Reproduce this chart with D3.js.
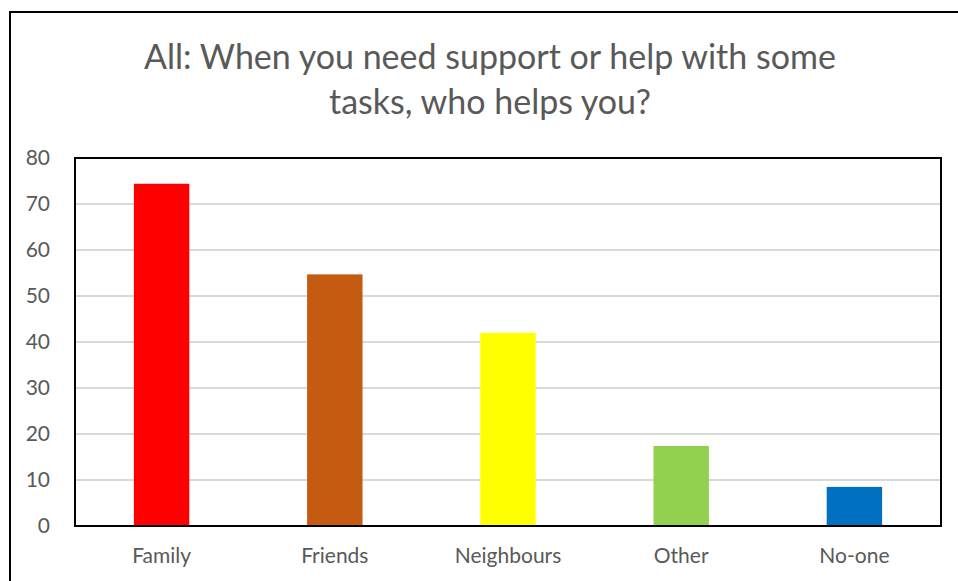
<!DOCTYPE html>
<html>
<head>
<meta charset="utf-8">
<script src="https://cdn.jsdelivr.net/npm/d3@7"></script>
<style>
  html, body { margin: 0; padding: 0; background: #fff; }
  svg { display: block; }
  text { font-family: Lato, "Open Sans", sans-serif; fill: #595959; }
</style>
</head>
<body>
<svg id="chart" width="958" height="581"></svg>
<script>
// Survey answers: who helps with tasks (percent of respondents)
const categories = ["Family", "Friends", "Neighbours", "Other", "No-one"];
const values = [74.4, 54.7, 42.0, 17.4, 8.5];
const barColors = ["#FF0000", "#C55A11", "#FFFF00", "#92D050", "#0070C0"];
const yTicks = [0, 10, 20, 30, 40, 50, 60, 70, 80];
const titleLines = ["All: When you need support or help with some", "tasks, who helps you?"];

const svg = d3.select("#chart");
const W = 958, H = 581;
const plot = { left: 75, top: 158, right: 941, bottom: 526 };

// Outer chart frame (extends past the visible area on the right and bottom)
svg.append("rect")
  .attr("x", 10).attr("y", 12)
  .attr("width", W + 10).attr("height", H + 10)
  .attr("fill", "none").attr("stroke", "#000").attr("stroke-width", 2);

// Title
svg.append("g").selectAll("text")
  .data(titleLines)
  .join("text")
  .attr("x", 490)
  .attr("y", (d, i) => 69 + i * 45)
  .attr("text-anchor", "middle")
  .attr("font-size", 34)
  .text(d => d);

const x = d3.scaleBand()
  .domain(categories)
  .range([plot.left, plot.right])
  .paddingInner(0.68)
  .paddingOuter(0.34);

const y = d3.scaleLinear()
  .domain([0, 80])
  .range([plot.bottom, plot.top]);

// Horizontal gridlines
svg.append("g")
  .selectAll("line")
  .data(yTicks.filter(t => t > 0 && t < 80))
  .join("line")
  .attr("x1", plot.left).attr("x2", plot.right)
  .attr("y1", d => y(d)).attr("y2", d => y(d))
  .attr("stroke", "#d9d9d9").attr("stroke-width", 2);

// Bars
svg.append("g")
  .selectAll("rect")
  .data(categories.map((c, i) => ({ c, v: values[i], col: barColors[i] })))
  .join("rect")
  .attr("x", d => x(d.c))
  .attr("width", x.bandwidth())
  .attr("y", d => y(d.v))
  .attr("height", d => y(0) - y(d.v))
  .attr("fill", d => d.col);

// Plot area border
svg.append("rect")
  .attr("x", plot.left).attr("y", plot.top)
  .attr("width", plot.right - plot.left)
  .attr("height", plot.bottom - plot.top)
  .attr("fill", "none").attr("stroke", "#000").attr("stroke-width", 2);

// Y axis labels
const yAxis = d3.axisLeft(y).tickValues(yTicks).tickSize(0).tickPadding(25);
const gy = svg.append("g").attr("transform", `translate(${plot.left},0)`).call(yAxis);
gy.select(".domain").remove();
gy.selectAll("text").attr("font-size", 21).attr("fill", "#595959")
  .style("font-family", "Lato, 'Open Sans', sans-serif");

// X axis labels
const xAxis = d3.axisBottom(x).tickSize(0).tickPadding(22);
const gx = svg.append("g").attr("transform", `translate(0,${plot.bottom})`).call(xAxis);
gx.select(".domain").remove();
gx.selectAll("text").attr("font-size", 21).attr("fill", "#595959")
  .style("font-family", "Lato, 'Open Sans', sans-serif");
</script>
</body>
</html>
